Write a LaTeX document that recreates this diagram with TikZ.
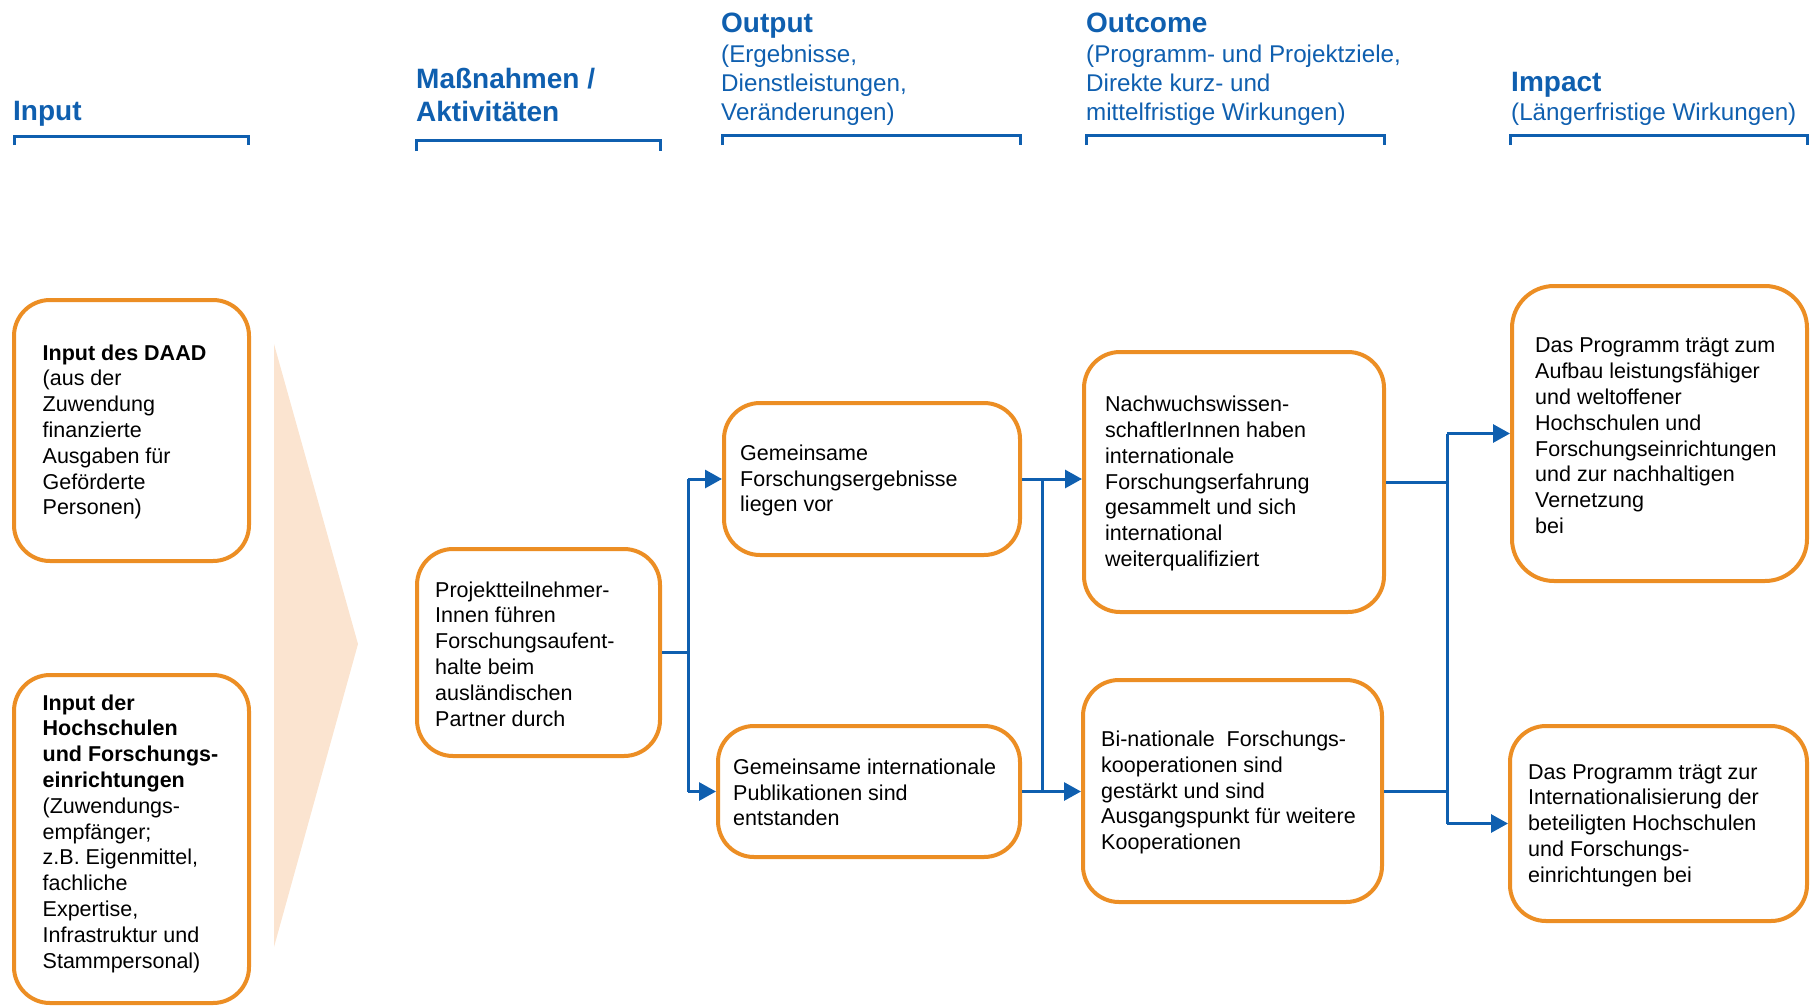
\documentclass[tikz,border=0pt]{standalone}
\usepackage{fontspec}
\setmainfont{Liberation Sans}
\usetikzlibrary{arrows.meta}
\definecolor{dorange}{HTML}{EC8E24}
\definecolor{dblue}{HTML}{0F5FAF}
\definecolor{peach}{HTML}{FBE4D0}
\begin{document}
\begin{tikzpicture}[x=1pt,y=-1pt,
  box/.style={draw=dorange, line width=4pt, rounded corners=36pt, fill=white, inner sep=0pt},
  btext/.style={anchor=west, align=left, inner sep=0pt, font=\fontsize{21.5}{25.8}\selectfont},
  htitle/.style={text=dblue, inner sep=0pt, font=\fontsize{28}{33}\selectfont\bfseries, align=left},
  hsub/.style={text=dblue, inner sep=0pt, font=\fontsize{24.2}{29}\selectfont, align=left},
  bracket/.style={draw=dblue, line width=3pt},
  conn/.style={draw=dblue, line width=3pt},
  arr/.style={conn, -{Triangle[length=17pt,width=18pt]}}
]
\useasboundingbox (0,0) rectangle (1810,1007);

% headers
\node[htitle, anchor=base west] (hin) at (13,120) {Input};
\node[htitle, anchor=north west] (hma) at (416,67.6) {Maßnahmen /\\Aktivitäten};
\node[htitle, anchor=base west] (hou) at (721,32) {Output};
\node[hsub, anchor=north west] (houS) at (721,44.4) {(Ergebnisse,\\Dienstleistungen,\\Veränderungen)};
\node[htitle, anchor=base west] (hoc) at (1086,32) {Outcome};
\node[hsub, anchor=north west] (hocS) at (1086,44.4) {(Programm- und Projektziele,\\Direkte kurz- und\\mittelfristige Wirkungen)};
\node[htitle, anchor=base west] (him) at (1511,91) {Impact};
\node[hsub, anchor=base west] (himS) at (1511,120) {(Längerfristige Wirkungen)};

\draw[bracket] (14,145) -- (14,136) -- (248,136) -- (248,145);
\draw[bracket] (416,151) -- (416,140) -- (660,140) -- (660,151);
\draw[bracket] (722,145) -- (722,135) -- (1020,135) -- (1020,145);
\draw[bracket] (1086,145) -- (1086,135) -- (1384,135) -- (1384,145);
\draw[bracket] (1510,145) -- (1510,135) -- (1807,135) -- (1807,145);

% big arrow triangle
\fill[peach] (274,344) -- (358,644) -- (274,947) -- cycle;

% boxes
\node[box, minimum width=235pt, minimum height=261pt] (b1) at (131.5,430.5) {};
\node[box, minimum width=235pt, minimum height=328pt] (b2) at (131.5,839) {};
\node[box, minimum width=243pt, minimum height=207pt] (b3) at (538.5,652.5) {};
\node[box, minimum width=296pt, minimum height=152pt] (b4) at (872,479) {};
\node[box, minimum width=302pt, minimum height=131pt] (b5) at (869,791.5) {};
\node[box, minimum width=300pt, minimum height=260pt] (b6) at (1234,482) {};
\node[box, minimum width=299pt, minimum height=222pt] (b7) at (1232.5,791) {};
\node[box, minimum width=295pt, minimum height=295pt, rounded corners=42pt] (b8) at (1659.5,433.5) {};
\node[box, minimum width=297pt, minimum height=195pt] (b9) at (1658.5,823.5) {};

% box texts
\node[btext] (t1) at ([xshift=30.5pt,yshift=-1.5pt]b1.west) {\textbf{Input des DAAD}\\(aus der\\Zuwendung\\finanzierte\\Ausgaben für\\Geförderte\\Personen)};
\node[btext] (t2) at ([xshift=30.5pt,yshift=5.5pt]b2.west) {\textbf{Input der}\\\textbf{Hochschulen}\\\textbf{und Forschungs-}\\\textbf{einrichtungen}\\(Zuwendungs-\\empfänger;\\z.B. Eigenmittel,\\fachliche\\Expertise,\\Infrastruktur und\\Stammpersonal)};
\node[btext] (t3) at ([xshift=20pt,yshift=-1.5pt]b3.west) {Projektteilnehmer-\\Innen führen\\Forschungsaufent-\\halte beim\\ausländischen\\Partner durch};
\node[btext] (t4) at ([xshift=18pt,yshift=-1.5pt]b4.west) {Gemeinsame\\Forschungsergebnisse\\liegen vor};
\node[btext] (t5) at ([xshift=17pt,yshift=-1pt]b5.west) {Gemeinsame internationale\\Publikationen sind\\entstanden};
\node[btext] (t6) at ([xshift=23pt,yshift=-1.5pt]b6.west) {Nachwuchswissen-\\schaftlerInnen haben\\internationale\\Forschungserfahrung\\gesammelt und sich\\international\\weiterqualifiziert};
\node[btext] (t7) at ([xshift=20pt,yshift=-1.5pt]b7.west) {Bi-nationale\ \ Forschungs-\\kooperationen sind\\gestärkt und sind\\Ausgangspunkt für weitere\\Kooperationen};
\node[btext] (t8) at ([xshift=25pt,yshift=-2.5pt]b8.west) {Das Programm trägt zum\\Aufbau leistungsfähiger\\und weltoffener\\Hochschulen und\\Forschungseinrichtungen\\und zur nachhaltigen\\Vernetzung\\bei};
\node[btext] (t9) at ([xshift=20pt,yshift=-2pt]b9.west) {Das Programm trägt zur\\Internationalisierung der\\beteiligten Hochschulen\\und Forschungs-\\einrichtungen bei};

% connectors
\coordinate (j1) at (688,650);
\coordinate (j2) at (1042,630);
\coordinate (j3) at (1447,630);

\draw[conn] (b3.east) -- (b3.east -| j1);
\draw[conn] (j1 |- b4.west) -- (j1 |- b5.west);
\draw[arr] (j1 |- b4.west) -- (b4.west);
\draw[arr] (j1 |- b5.west) -- (b5.west);

\draw[arr] (b4.east) -- (b4.east -| b6.west);
\draw[arr] (b5.east) -- (b5.east -| b7.west);
\draw[conn] (b4.east -| j2) -- (b5.east -| j2);

\draw[conn] (b6.east) -- (b6.east -| j3);
\draw[conn] (b7.east) -- (b7.east -| j3);
\draw[conn] (j3 |- b8.west) -- (j3 |- b9.west);
\draw[arr] (j3 |- b8.west) -- (b8.west);
\draw[arr] (j3 |- b9.west) -- (b9.west);
\end{tikzpicture}
\end{document}
